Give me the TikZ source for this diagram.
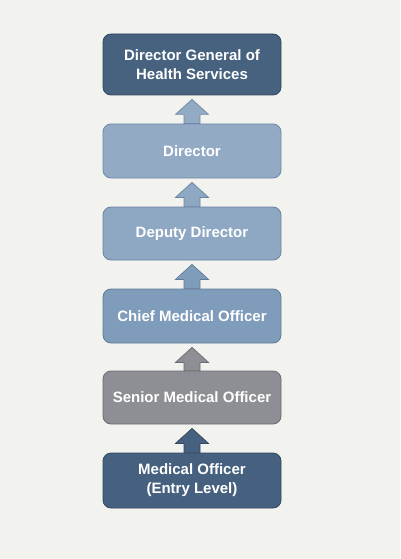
\documentclass[tikz,border=0pt]{standalone}
\usepackage{fontspec}
\setmainfont{Liberation Sans}
\usetikzlibrary{calc,backgrounds}
\definecolor{bgc}{HTML}{F2F2EF}
\definecolor{dgc}{HTML}{47627F}
\definecolor{dgd}{HTML}{33475E}
\definecolor{dirc}{HTML}{93AAC5}
\definecolor{dird}{HTML}{6E88A6}
\definecolor{depc}{HTML}{8EA7C3}
\definecolor{depd}{HTML}{6A84A2}
\definecolor{chc}{HTML}{7F9CBA}
\definecolor{chd}{HTML}{5F7B99}
\definecolor{src}{HTML}{8D8F94}
\definecolor{srd}{HTML}{6A6C71}
\definecolor{moc}{HTML}{46617F}
\definecolor{mod}{HTML}{33475E}
\tikzset{
  rank/.style={rounded corners=8pt, line width=0.8pt, minimum width=178pt,
    text=white, font=\bfseries\fontsize{15}{19}\selectfont, align=center, inner sep=2pt},
  uparrow/.style={line width=0.7pt}
}
\newcommand{\rankarrow}[4]{%
  \coordinate (T) at ($(#2.south)+(0,4)$);
  \filldraw[uparrow, fill=#3, draw=#4]
    ($(#1.north)+(-8,0)$) -- ($(T)+(-8,15)$) -- ($(T)+(-16.5,15)$) -- (T)
    -- ($(T)+(16.5,15)$) -- ($(T)+(8,15)$) -- ($(#1.north)+(8,0)$) -- cycle;
}
\begin{document}
\begin{tikzpicture}[x=1pt,y=-1pt]
\useasboundingbox (0,0) rectangle (400,559);
\node[rank, fill=dgc, draw=dgd, minimum height=61pt] (dg) at (192,64.5) {Director General of\\Health Services};
\node[rank, fill=dirc, draw=dird, minimum height=54pt] (dir) at (192,151) {Director};
\node[rank, fill=depc, draw=depd, minimum height=53pt] (dep) at (192,233.5) {Deputy Director};
\node[rank, fill=chc, draw=chd, minimum height=54pt] (cmo) at (192,316) {Chief Medical Officer};
\node[rank, fill=src, draw=srd, minimum height=53pt] (smo) at (192,397.5) {Senior Medical Officer};
\node[rank, fill=moc, draw=mod, minimum height=55pt] (mo) at (192,480.5) {Medical Officer\\(Entry Level)};
\begin{scope}[on background layer]
\fill[bgc] (0,0) rectangle (400,559);
\rankarrow{dir}{dg}{dirc}{dird}
\rankarrow{dep}{dir}{depc}{depd}
\rankarrow{cmo}{dep}{chc}{chd}
\rankarrow{smo}{cmo}{src}{srd}
\rankarrow{mo}{smo}{moc}{mod}
\end{scope}
\end{tikzpicture}
\end{document}
